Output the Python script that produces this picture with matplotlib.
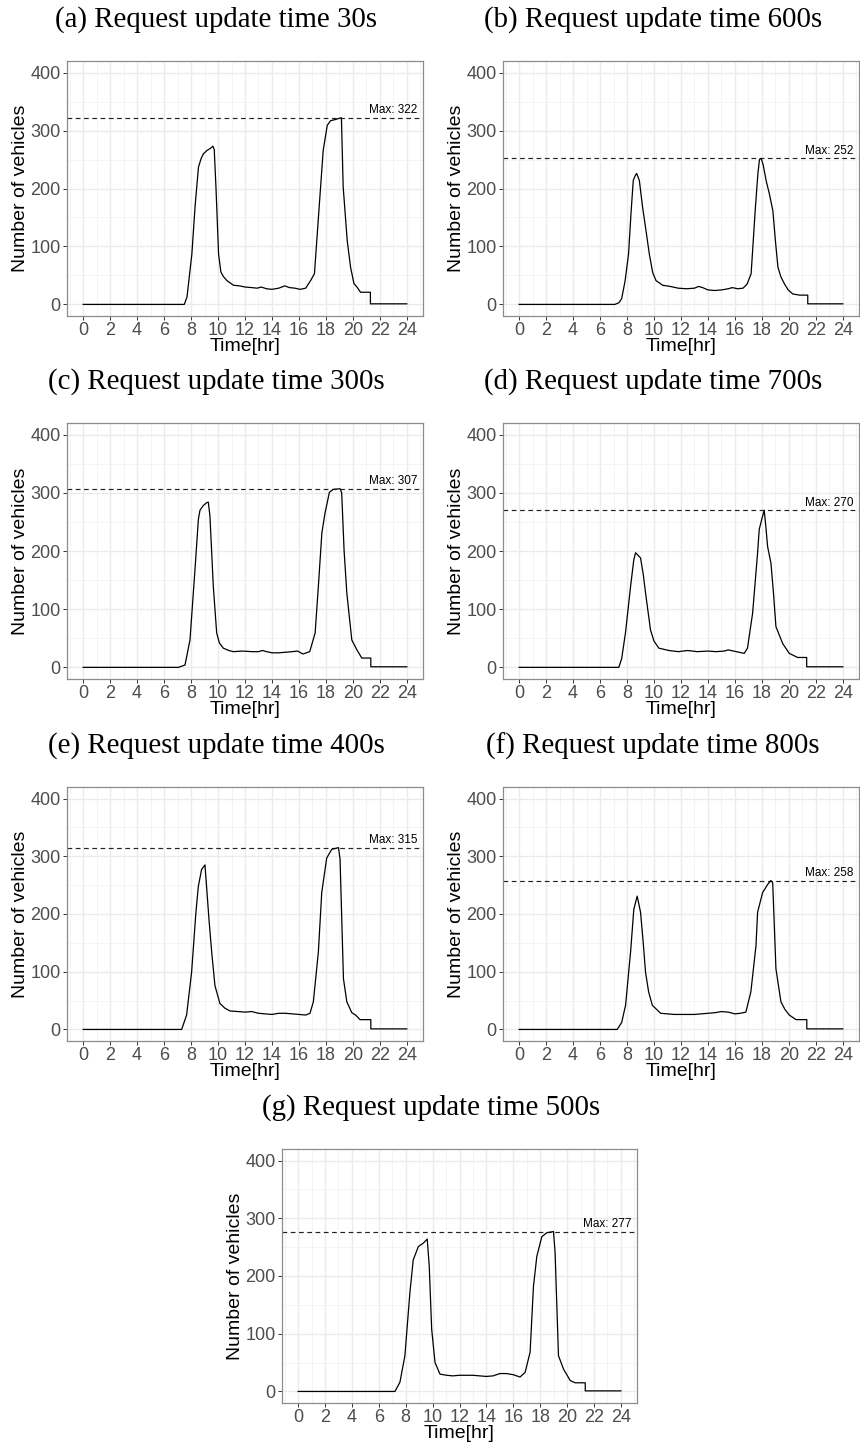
import matplotlib
matplotlib.use("Agg")
import matplotlib.pyplot as plt
from matplotlib.ticker import MultipleLocator

# ---------------------------------------------------------------------------
# Vehicle counts over the day, one series per request update time
# ---------------------------------------------------------------------------

hours_a = [0, 7.5, 7.7, 8.06, 8.3, 8.55, 8.75, 8.92, 9.2, 9.42, 9.62, 9.72, 9.85,
           10.04, 10.21, 10.4, 10.66, 11.15, 11.6, 12.0, 12.5, 12.9, 13.2, 13.6,
           14.0, 14.5, 14.95, 15.3, 15.7, 16.1, 16.5, 16.86, 17.15, 17.5, 17.8,
           18.1, 18.35, 18.7, 18.97, 19.15, 19.28, 19.58, 19.83, 20.08, 20.3,
           20.57, 21.3, 21.3, 24]
veh_a = [0, 0, 13, 87, 170, 237, 252, 260, 266, 269, 273, 267, 200,
         87, 56, 48, 41, 33, 32, 30, 29, 28, 30, 27,
         26, 28, 32, 29, 28, 26, 28, 41, 53, 168, 266,
         309, 317, 319, 321, 322, 203, 110, 64, 36, 30,
         21, 21, 1, 1]

hours_b = [0, 7.1, 7.4, 7.6, 7.85, 8.11, 8.3, 8.46, 8.6, 8.71, 8.91, 9.15, 9.4,
           9.65, 9.9, 10.15, 10.65, 11.2, 11.8, 12.4, 13.0, 13.3, 13.6, 14.0,
           14.5, 15.0, 15.5, 15.8, 16.2, 16.6, 16.9, 17.2, 17.52, 17.7, 17.82,
           17.95, 18.1, 18.31, 18.56, 18.81, 19.0, 19.19, 19.4, 19.68, 19.95,
           20.29, 20.8, 21.4, 21.4, 24]
veh_b = [0, 0, 3, 10, 40, 87, 160, 214, 222, 226, 214, 168, 128,
         87, 55, 41, 33, 31, 28, 27, 28, 31, 29, 25,
         24, 25, 27, 29, 27, 28, 35, 53, 168, 225, 250,
         252, 240, 214, 190, 162, 110, 64, 48, 35, 25,
         18, 16, 16, 1, 1]

hours_c = [0, 7.05, 7.55, 7.92, 8.29, 8.54, 8.66, 8.9, 9.15, 9.28, 9.4, 9.65,
           9.9, 10.1, 10.39, 10.8, 11.13, 11.8, 12.5, 13.0, 13.3, 13.6, 14.0,
           14.5, 15.0, 15.5, 15.9, 16.3, 16.8, 17.2, 17.44, 17.7, 17.94, 18.26,
           18.55, 19.05, 19.17, 19.35, 19.55, 19.92, 20.3, 20.66, 21.33, 21.33, 24]
veh_c = [0, 0, 4, 47, 168, 254, 270, 278, 283, 284, 260, 139,
         59, 42, 33, 29, 27, 28, 27, 27, 29, 27, 25,
         25, 26, 27, 28, 23, 27, 59, 139, 231, 266, 301,
         306, 307, 300, 200, 128, 47, 30, 16, 16, 1, 1]

hours_d = [0, 7.39, 7.6, 7.88, 8.26, 8.5, 8.63, 8.8, 9.0, 9.2, 9.37, 9.74, 10.0,
           10.36, 11.1, 11.8, 12.5, 13.2, 14.0, 14.6, 15.2, 15.5, 15.9, 16.3,
           16.69, 16.93, 17.31, 17.68, 17.8, 18.05, 18.17, 18.3, 18.42, 18.67,
           18.85, 19.04, 19.54, 20.03, 20.65, 21.32, 21.32, 24]
veh_d = [0, 0, 15, 59, 139, 185, 197, 193, 188, 160, 128, 64, 45,
         33, 29, 27, 29, 27, 28, 27, 28, 30, 28, 26,
         24, 33, 93, 197, 237, 260, 270, 240, 208, 179,
         130, 70, 41, 24, 17, 17, 1, 1]

hours_e = [0, 7.3, 7.67, 8.04, 8.36, 8.54, 8.78, 9.03, 9.15, 9.33, 9.53, 9.77,
           10.14, 10.5, 10.89, 11.5, 12.0, 12.5, 13.0, 13.5, 14.0, 14.5, 15.0,
           15.5, 16.0, 16.5, 16.82, 17.07, 17.44, 17.69, 18.06, 18.43, 18.93,
           19.05, 19.3, 19.55, 19.92, 20.2, 20.53, 21.33, 21.33, 24]
veh_e = [0, 0, 25, 99, 203, 248, 277, 285, 248, 190, 134, 76,
         45, 37, 32, 31, 30, 31, 28, 27, 26, 28, 28,
         27, 26, 25, 28, 48, 134, 237, 297, 312, 315,
         295, 88, 48, 29, 25, 17, 17, 1, 1]

hours_f = [0, 7.27, 7.6, 7.89, 8.26, 8.5, 8.75, 9.0, 9.2, 9.37, 9.6, 9.87,
           10.49, 11.0, 11.5, 12.0, 12.5, 13.0, 13.5, 14.0, 14.5, 15.0, 15.5,
           16.0, 16.4, 16.81, 17.18, 17.56, 17.68, 18.05, 18.42, 18.67, 18.8,
           19.04, 19.41, 19.7, 20.03, 20.53, 21.33, 21.33, 24]
veh_f = [0, 0, 12, 42, 134, 208, 231, 203, 150, 99, 65, 42,
         28, 27, 26, 26, 26, 26, 27, 28, 29, 31, 30,
         27, 28, 30, 65, 145, 203, 237, 251, 258, 254,
         105, 48, 35, 25, 17, 17, 1, 1]

hours_g = [0, 7.2, 7.57, 7.94, 8.31, 8.56, 8.94, 9.31, 9.6, 9.75, 9.93, 10.18,
           10.55, 11.05, 11.5, 12.0, 12.5, 13.0, 13.5, 14.0, 14.5, 15.0, 15.5,
           16.0, 16.5, 16.88, 17.25, 17.5, 17.75, 18.12, 18.49, 18.99, 19.11,
           19.36, 19.73, 20.23, 20.6, 21.35, 21.35, 24]
veh_g = [0, 0, 16, 62, 171, 228, 251, 257, 264, 217, 108, 50,
         30, 28, 27, 28, 28, 28, 27, 26, 27, 31, 31,
         29, 25, 33, 68, 182, 234, 268, 275, 277, 240,
         62, 39, 19, 15, 15, 1, 1]

panel_titles = [
    "(a) Request update time 30s", "(b) Request update time 600s",
    "(c) Request update time 300s", "(d) Request update time 700s",
    "(e) Request update time 400s", "(f) Request update time 800s",
    "(g) Request update time 500s",
]
series = [(hours_a, veh_a), (hours_b, veh_b), (hours_c, veh_c), (hours_d, veh_d),
          (hours_e, veh_e), (hours_f, veh_f), (hours_g, veh_g)]

# ---------------------------------------------------------------------------
# Layout (pixel boxes: left, top, right, bottom) on an 860 x 1448 canvas
# ---------------------------------------------------------------------------
W, H = 860, 1448
boxes = [
    (67, 61, 423, 316), (503, 61, 859, 316),
    (67, 423, 423, 679), (503, 423, 859, 679),
    (67, 787, 423, 1041), (503, 787, 859, 1041),
    (282, 1149, 637, 1403),
]
title_x = [216, 653, 216, 653, 216, 653, 431]

SANS = "Liberation Sans"
SERIF = "Liberation Serif"

fig = plt.figure(figsize=(W / 100, H / 100), dpi=100)
fig.patch.set_facecolor("white")

for (l, t, r, b), title, tx, (hrs, veh) in zip(boxes, panel_titles, title_x, series):
    ax = fig.add_axes([l / W, 1 - b / H, (r - l) / W, (b - t) / H])
    ax.set_xlim(-1.2, 25.2)
    ax.set_ylim(-20, 420)

    ax.xaxis.set_major_locator(MultipleLocator(2))
    ax.xaxis.set_minor_locator(MultipleLocator(1))
    ax.yaxis.set_major_locator(MultipleLocator(100))
    ax.yaxis.set_minor_locator(MultipleLocator(50))
    ax.grid(which="major", color="#EBEBEB", linewidth=1.0)
    ax.grid(which="minor", color="#F2F2F2", linewidth=0.6)
    ax.set_axisbelow(True)

    for sp in ax.spines.values():
        sp.set_color("#8C8C8C")
        sp.set_linewidth(0.9)
    ax.tick_params(which="major", length=3, width=0.7, color="#333333",
                   labelsize=13, labelcolor="#4D4D4D", pad=1.5)
    ax.tick_params(which="minor", length=0)
    for lab in ax.get_xticklabels() + ax.get_yticklabels():
        lab.set_family(SANS)

    ax.plot(hrs, veh, color="black", linewidth=0.9, zorder=3)

    peak = max(veh)
    ax.axhline(peak, color="#222222", linewidth=0.85, linestyle=(0, (4, 3)), zorder=2)
    ax.annotate(f"Max: {peak}", xy=(0.985, peak),
                xycoords=("axes fraction", "data"), xytext=(0, 1.2),
                textcoords="offset points", ha="right", va="bottom",
                fontsize=8.5, family=SANS, color="black")

    ax.set_xlabel("Time[hr]", fontsize=14, family=SANS, labelpad=-1)
    ax.set_ylabel("Number of vehicles", fontsize=14, family=SANS, labelpad=1)

    fig.text(tx / W, 1 - (t - 41) / H, title, ha="center", va="center",
             fontsize=20.8, family=SERIF, color="black")

fig.savefig("out.png", dpi=100, facecolor="white")
